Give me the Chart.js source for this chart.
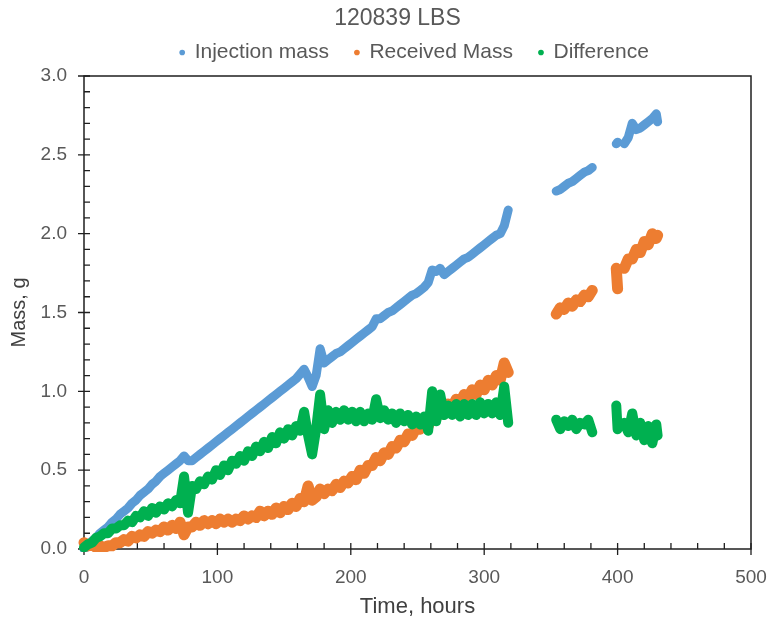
<!DOCTYPE html>
<html>
<head>
<meta charset="utf-8">
<title>120839 LBS</title>
<script src="https://cdn.jsdelivr.net/npm/chart.js@4.4.1/dist/chart.umd.min.js"></script>
<style>
  html, body { margin: 0; padding: 0; background: #fff; }
  #wrap { width: 770px; height: 624px; }
</style>
</head>
<body>
<div id="wrap"><canvas id="massChart"></canvas></div>
<script>
// Sample times (hours); null rows below mark the gaps in logging
const hours = [
  0, 3, 6, 9, 12, 15, 18, 21, 24, 27, 30, 33,
  36, 39, 42, 45, 48, 51, 54, 57, 60, 63, 66, 69,
  72, 75, 78, 81, 84, 87, 90, 93, 96, 99, 102, 105,
  108, 111, 114, 117, 120, 123, 126, 129, 132, 135, 138, 141,
  144, 147, 150, 153, 156, 159, 162, 165, 168, 171, 174, 177,
  180, 183, 186, 189, 192, 195, 198, 201, 204, 207, 210, 213,
  216, 219, 222, 225, 228, 231, 234, 237, 240, 243, 246, 249,
  252, 255, 258, 261, 264, 267, 270, 273, 276, 279, 282, 285,
  288, 291, 294, 297, 300, 303, 306, 309, 312, 315, 318,
  336,
  354, 357, 360, 363, 366, 369, 372, 375, 378, 381,
  390,
  399, 400,
  402,
  405, 408, 411, 414, 417, 420, 423, 426, 429, 430
];

const injectionMass = [
  0.00, 0.02, 0.05, 0.07, 0.10, 0.12, 0.14, 0.17, 0.19, 0.22, 0.24, 0.26,
  0.29, 0.31, 0.34, 0.36, 0.38, 0.41, 0.43, 0.46, 0.48, 0.50, 0.52, 0.54,
  0.56, 0.59, 0.56, 0.56, 0.58, 0.60, 0.62, 0.64, 0.66, 0.68, 0.70, 0.72,
  0.74, 0.76, 0.78, 0.80, 0.82, 0.84, 0.86, 0.88, 0.90, 0.92, 0.94, 0.96,
  0.98, 1.00, 1.02, 1.04, 1.06, 1.08, 1.11, 1.14, 1.09, 1.03, 1.10, 1.27,
  1.18, 1.20, 1.22, 1.24, 1.25, 1.27, 1.29, 1.31, 1.33, 1.35, 1.37, 1.39,
  1.41, 1.46, 1.46, 1.48, 1.50, 1.51, 1.53, 1.55, 1.57, 1.59, 1.61, 1.62,
  1.64, 1.66, 1.69, 1.77, 1.76, 1.78, 1.74, 1.76, 1.78, 1.80, 1.82, 1.84,
  1.85, 1.87, 1.89, 1.91, 1.93, 1.95, 1.97, 1.99, 2.00, 2.05, 2.15,
  null,
  2.27, 2.28, 2.30, 2.32, 2.33, 2.35, 2.37, 2.39, 2.40, 2.42,
  null,
  2.57, 2.58,
  null,
  2.57, 2.61, 2.70, 2.66, 2.67, 2.69, 2.71, 2.73, 2.76, 2.71
];

const receivedMass = [
  0.04, 0.02, 0.03, 0.01, 0.02, 0.01, 0.02, 0.02, 0.04, 0.04, 0.06, 0.05,
  0.08, 0.07, 0.09, 0.08, 0.11, 0.10, 0.12, 0.11, 0.14, 0.12, 0.15, 0.13,
  0.17, 0.09, 0.14, 0.14, 0.17, 0.15, 0.18, 0.16, 0.18, 0.16, 0.19, 0.17,
  0.19, 0.17, 0.19, 0.18, 0.21, 0.19, 0.21, 0.20, 0.24, 0.21, 0.24, 0.22,
  0.26, 0.23, 0.27, 0.25, 0.29, 0.27, 0.32, 0.30, 0.40, 0.31, 0.33, 0.38,
  0.35, 0.38, 0.37, 0.41, 0.39, 0.43, 0.42, 0.46, 0.44, 0.50, 0.48, 0.53,
  0.53, 0.58, 0.56, 0.61, 0.60, 0.65, 0.64, 0.69, 0.68, 0.73, 0.72, 0.77,
  0.76, 0.80, 0.78, 0.84, 0.83, 0.88, 0.86, 0.92, 0.90, 0.95, 0.93, 0.98,
  0.96, 1.01, 0.98, 1.04, 1.01, 1.07, 1.04, 1.10, 1.07, 1.18, 1.12,
  null,
  1.49, 1.53, 1.52, 1.56, 1.54, 1.58, 1.57, 1.61, 1.60, 1.64,
  null,
  1.78, 1.65,
  null,
  1.78, 1.84, 1.84, 1.90, 1.88, 1.95, 1.93, 2.00, 1.97, 1.99
];

const massDifference = [
  0.01, 0.03, 0.04, 0.07, 0.08, 0.10, 0.10, 0.13, 0.13, 0.15, 0.15, 0.18,
  0.17, 0.21, 0.20, 0.24, 0.21, 0.26, 0.23, 0.27, 0.25, 0.29, 0.27, 0.31,
  0.29, 0.46, 0.23, 0.40, 0.38, 0.43, 0.41, 0.46, 0.44, 0.50, 0.47, 0.53,
  0.50, 0.56, 0.54, 0.59, 0.56, 0.62, 0.59, 0.65, 0.62, 0.68, 0.64, 0.71,
  0.67, 0.74, 0.70, 0.76, 0.72, 0.78, 0.75, 0.87, 0.72, 0.60, 0.76, 0.98,
  0.76, 0.88, 0.80, 0.87, 0.82, 0.88, 0.82, 0.87, 0.81, 0.87, 0.81, 0.86,
  0.82, 0.95, 0.83, 0.88, 0.82, 0.86, 0.80, 0.86, 0.81, 0.85, 0.79, 0.84,
  0.79, 0.84, 0.75, 1.00, 0.81, 0.98, 0.85, 0.91, 0.85, 0.92, 0.84, 0.92,
  0.85, 0.92, 0.85, 0.93, 0.86, 0.92, 0.86, 0.93, 0.85, 1.03, 0.80,
  null,
  0.82, 0.76, 0.81, 0.78, 0.82, 0.76, 0.80, 0.79, 0.82, 0.74,
  null,
  0.91, 0.76,
  null,
  0.80, 0.74, 0.86, 0.72, 0.80, 0.69, 0.78, 0.67, 0.79, 0.72
];

const xTickValues = [0, 100, 200, 300, 400, 500];
const yTickValues = [0, 0.5, 1.0, 1.5, 2.0, 2.5, 3.0];

const textGrey = '#595959';
const axisColor = '#1f1f1f';
Chart.defaults.font.family = "'Liberation Sans', Arial, sans-serif";

// Frame round the plot plus Excel-style major/minor tick marks
const axisFrame = {
  id: 'axisFrame',
  beforeDatasetsDraw(chart) {
    const { ctx, chartArea: a, scales: { x, y } } = chart;
    ctx.save();
    ctx.strokeStyle = axisColor;
    ctx.lineWidth = 1.5;
    ctx.strokeRect(a.left, a.top, a.right - a.left, a.bottom - a.top);
    ctx.lineWidth = 1.3;
    ctx.beginPath();
    for (let v = x.min; v <= x.max; v += 20) {
      const px = x.getPixelForValue(v);
      const major = v % 100 === 0;
      ctx.moveTo(px, a.bottom + (major ? 6 : 0));
      ctx.lineTo(px, a.bottom - 6);
    }
    for (let i = 0; i <= 30; i++) {
      const py = y.getPixelForValue(i / 10);
      const major = i % 5 === 0;
      ctx.moveTo(a.left - (major ? 6 : 0), py);
      ctx.lineTo(a.left + 6, py);
    }
    ctx.stroke();
    ctx.restore();
  }
};

// Place title and legend row where the reference has them
const headerPlacement = {
  id: 'headerPlacement',
  afterLayout(chart) {
    const lg = chart.legend;
    lg.top = 16;
    lg.bottom = chart.chartArea.top;
    lg.height = lg.bottom - lg.top;
    lg.left += 39;
    lg.right += 39;
    const tb = chart.titleBlock;
    tb.left += 22;
    tb.right += 22;
  }
};

function makeSeries(label, values, color, width, order) {
  return {
    label: label,
    order: order,
    data: hours.map((h, i) => ({ x: h, y: values[i] })),
    showLine: true,
    spanGaps: false,
    borderColor: color,
    backgroundColor: color,
    borderWidth: width,
    borderCapStyle: 'round',
    borderJoinStyle: 'round',
    pointRadius: 0,
    pointHoverRadius: 0,
    pointBackgroundColor: color,
    pointBorderWidth: 0,
    pointStyle: 'circle',
    clip: { left: 8, top: 8, right: 8, bottom: 3 }
  };
}

new Chart(document.getElementById('massChart'), {
  type: 'scatter',
  data: {
    datasets: [
      makeSeries('Injection mass', injectionMass, '#5B9BD5', 9, 2),
      makeSeries('Received Mass', receivedMass, '#ED7D31', 11, 1),
      makeSeries('Difference', massDifference, '#00B050', 10, 0)
    ]
  },
  options: {
    responsive: true,
    maintainAspectRatio: false,
    animation: false,
    devicePixelRatio: 1,
    layout: { padding: { left: 0, right: 19, top: 0, bottom: 0 } },
    plugins: {
      title: {
        display: true,
        text: '120839 LBS',
        color: textGrey,
        font: { size: 23, weight: 'normal' },
        padding: { top: 5, bottom: 0 }
      },
      legend: {
        position: 'top',
        maxHeight: 43.4,
        labels: {
          usePointStyle: true,
          pointStyle: 'circle',
          boxWidth: 4,
          boxHeight: 4,
          padding: 26,
          color: textGrey,
          font: { size: 21 },
          sort: (a, b) => a.datasetIndex - b.datasetIndex
        }
      },
      tooltip: { enabled: false }
    },
    scales: {
      x: {
        type: 'linear',
        min: 0,
        max: 500,
        afterBuildTicks: s => { s.ticks = xTickValues.map(v => ({ value: v })); },
        afterFit: s => { s.height = 75; s.paddingLeft = 0; s.paddingRight = 0; },
        ticks: { color: textGrey, font: { size: 19 }, padding: 17, maxRotation: 0 },
        grid: { display: false, drawTicks: false },
        border: { display: false },
        title: {
          display: true,
          text: 'Time, hours',
          color: '#404040',
          font: { size: 22 },
          padding: { top: 0, bottom: 4 }
        }
      },
      y: {
        type: 'linear',
        min: 0,
        max: 3,
        afterBuildTicks: s => { s.ticks = yTickValues.map(v => ({ value: v })); },
        afterFit: s => { s.width = 84; },
        ticks: { color: textGrey, font: { size: 19 }, padding: 17, callback: v => v.toFixed(1) },
        grid: { display: false, drawTicks: false },
        border: { display: false },
        title: {
          display: true,
          text: 'Mass, g',
          color: '#404040',
          font: { size: 20 },
          padding: { top: 7, bottom: 0 }
        }
      }
    }
  },
  plugins: [axisFrame, headerPlacement]
});
</script>
</body>
</html>
